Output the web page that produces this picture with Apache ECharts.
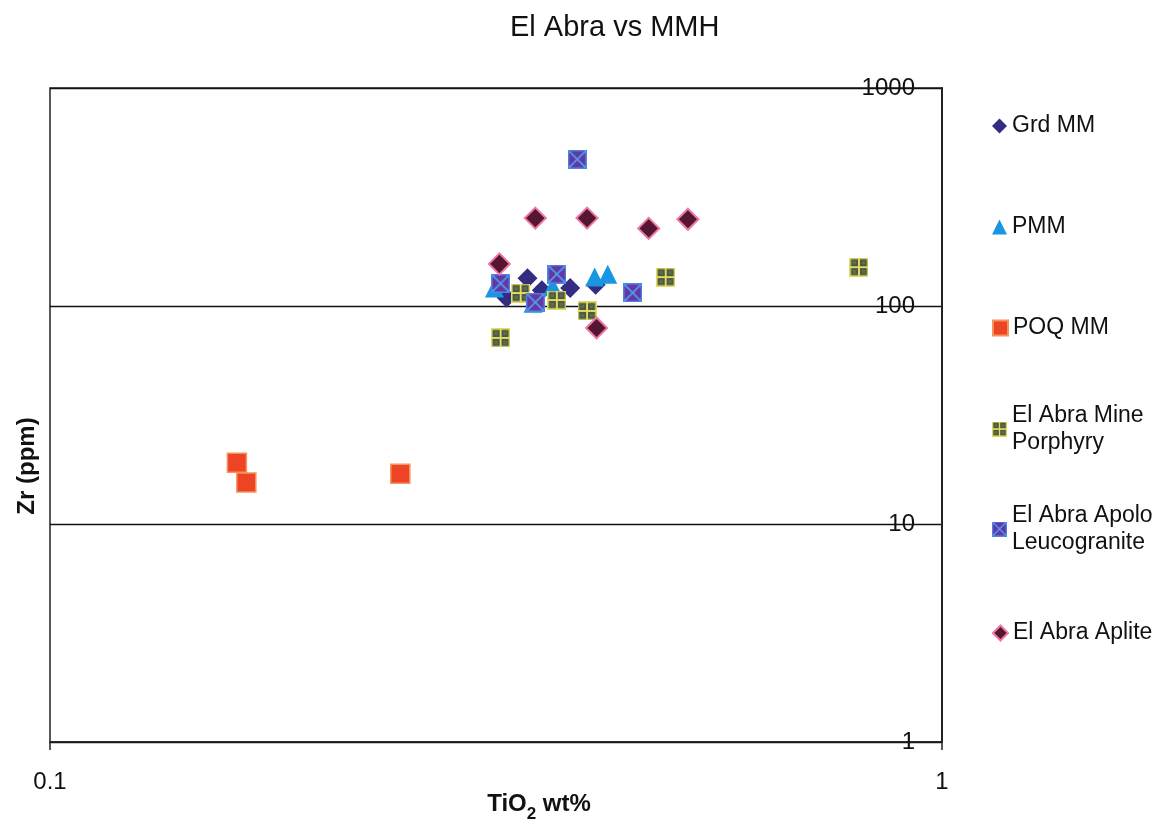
<!DOCTYPE html>
<html>
<head>
<meta charset="utf-8">
<title>El Abra vs MMH</title>
<script src="https://cdn.jsdelivr.net/npm/echarts@6/dist/echarts.min.js"></script>
<style>
  html, body { margin: 0; padding: 0; background: #ffffff; }
  #chart { width: 1169px; height: 821px; }
</style>
</head>
<body>
<div id="chart"></div>
<script>
// TiO2 (wt%) and Zr (ppm) for each sample group
const grdMM_TiO2 = [0.325, 0.343, 0.356, 0.383, 0.409];
const grdMM_Zr   = [109, 134, 118, 121, 125];

const pmm_TiO2 = [0.315, 0.348, 0.366, 0.408, 0.422];
const pmm_Zr   = [121, 103, 123, 136, 140];

const poqMM_TiO2 = [0.162, 0.166, 0.247];
const poqMM_Zr   = [19.1, 15.5, 17.0];

const minePorphyry_TiO2 = [0.320, 0.337, 0.370, 0.400, 0.490, 0.807];
const minePorphyry_Zr   = [71.4, 114.7, 106.5, 94.9, 135.7, 150.7];

const apolo_TiO2 = [0.320, 0.350, 0.370, 0.390, 0.450];
const apolo_Zr   = [127, 104, 140, 471, 115];

const aplite_TiO2 = [0.319, 0.350, 0.400, 0.469, 0.519, 0.410];
const aplite_Zr   = [156, 253, 253, 227, 250, 79.3];

const seriesNames = ['Grd MM', 'PMM', 'POQ MM', 'El Abra Mine\nPorphyry', 'El Abra Apolo\nLeucogranite', 'El Abra Aplite'];
const xTickLabels = ['0.1', '1'];
const yTickLabels = ['1', '10', '100', '1000'];

const FONT = '"Liberation Sans", Arial, sans-serif';

function pairs(xs, ys) { return xs.map((x, i) => [x, ys[i]]); }

// Marker images for the patterned symbols
function makeSymbol(draw) {
  const c = document.createElement('canvas');
  c.width = 40; c.height = 40;
  draw(c.getContext('2d'));
  return 'image://' + c.toDataURL();
}
const porphyrySymbol = makeSymbol(ctx => {
  ctx.fillStyle = '#e4dc5e';
  ctx.fillRect(0, 0, 40, 40);
  ctx.fillStyle = '#4c5a44';
  [[3, 3], [22, 3], [3, 22], [22, 22]].forEach(([x, y]) => ctx.fillRect(x, y, 15, 15));
  ctx.fillStyle = '#5e6d52';
  [[7, 7], [26, 7], [7, 26], [26, 26]].forEach(([x, y]) => ctx.fillRect(x, y, 7, 7));
});
const apoloSymbol = makeSymbol(ctx => {
  ctx.fillStyle = '#6438a4';
  ctx.fillRect(0, 0, 40, 40);
  ctx.strokeStyle = '#4f86e6';
  ctx.lineWidth = 3;
  ctx.strokeRect(1.5, 1.5, 37, 37);
  ctx.strokeStyle = '#4fa0f0';
  ctx.lineWidth = 3.5;
  ctx.beginPath();
  ctx.moveTo(3, 3); ctx.lineTo(37, 37);
  ctx.moveTo(37, 3); ctx.lineTo(3, 37);
  ctx.stroke();
});

const seriesDefs = [
  { name: seriesNames[0], data: pairs(grdMM_TiO2, grdMM_Zr), symbol: 'diamond', symbolSize: 20,
    itemStyle: { color: '#332c80', opacity: 1 } },
  { name: seriesNames[1], data: pairs(pmm_TiO2, pmm_Zr), symbol: 'triangle', symbolSize: 19,
    itemStyle: { color: '#1896e2', opacity: 1 } },
  { name: seriesNames[2], data: pairs(poqMM_TiO2, poqMM_Zr), symbol: 'rect', symbolSize: 19,
    itemStyle: { color: '#ee4426', borderColor: '#f6925a', borderWidth: 1.5, opacity: 1 } },
  { name: seriesNames[3], data: pairs(minePorphyry_TiO2, minePorphyry_Zr), symbol: porphyrySymbol, symbolSize: 19,
    itemStyle: { color: '#4c5a44', opacity: 1 } },
  { name: seriesNames[4], data: pairs(apolo_TiO2, apolo_Zr), symbol: apoloSymbol, symbolSize: 19,
    itemStyle: { color: '#6438a4', opacity: 1 } },
  { name: seriesNames[5], data: pairs(aplite_TiO2, aplite_Zr), symbol: 'diamond', symbolSize: 21,
    itemStyle: { color: '#561632', borderColor: '#ec78a4', borderWidth: 2, opacity: 1 } }
];

// Legend: one block per group, stacked down the right side
const legendCenters = [126, 227, 328, 429, 529, 633];
const LINE_H = 27;
const legends = seriesDefs.map((s, i) => {
  const twoLine = s.name.indexOf('\n') >= 0;
  return {
    data: [s.name],
    orient: 'vertical',
    left: 992,
    top: legendCenters[i] - (twoLine ? 1.5 * LINE_H : LINE_H / 2),
    padding: 0,
    itemWidth: 15,
    itemHeight: 15,
    selectedMode: false,
    textStyle: {
      fontFamily: FONT, fontSize: 23, color: '#111', lineHeight: LINE_H,
      padding: twoLine ? [LINE_H, 0, 0, 0] : 0
    }
  };
});

const chart = echarts.init(document.getElementById('chart'), null, { renderer: 'canvas' });
chart.setOption({
  backgroundColor: '#ffffff',
  animation: false,
  title: {
    text: 'El Abra vs MMH',
    left: 505,
    top: 8,
    textStyle: { fontFamily: FONT, fontSize: 29, fontWeight: 'normal', color: '#111' }
  },
  legend: legends,
  grid: {
    left: 50, right: 227, top: 88, bottom: 79,
    show: true, borderColor: '#222', borderWidth: 1.5, backgroundColor: 'transparent'
  },
  xAxis: {
    type: 'log', logBase: 10, min: 0.1, max: 1,
    axisLine: { show: true, lineStyle: { color: '#222', width: 1.5 } },
    axisTick: { show: true, length: 8, lineStyle: { color: '#222', width: 1.5 } },
    splitLine: { show: false },
    axisLabel: {
      margin: 28, fontFamily: FONT, fontSize: 24, color: '#111',
      formatter: v => xTickLabels[Math.round(Math.log10(v) - Math.log10(0.1))]
    }
  },
  yAxis: {
    type: 'log', logBase: 10, min: 1, max: 1000,
    position: 'right',
    axisLine: { show: true, lineStyle: { color: '#222', width: 2 } },
    axisTick: { show: false },
    splitLine: { show: true, lineStyle: { color: '#111', width: 1.3 } },
    axisLabel: {
      inside: true, margin: 27, fontFamily: FONT, fontSize: 24, color: '#111',
      formatter: v => yTickLabels[Math.round(Math.log10(v))]
    }
  },
  graphic: [
    {
      type: 'text', x: 539, y: 806, z: 10,
      style: {
        text: '{b|TiO}{s|2}{b| wt%}',
        align: 'center', verticalAlign: 'middle',
        rich: {
          b: { fontFamily: FONT, fontSize: 24, fontWeight: 'bold', lineHeight: 28, verticalAlign: 'top', fill: '#111' },
          s: { fontFamily: FONT, fontSize: 17, fontWeight: 'bold', lineHeight: 16, padding: [14, 0, 0, 0], verticalAlign: 'top', fill: '#111' }
        }
      }
    },
    {
      type: 'text', x: 27, y: 466, rotation: Math.PI / 2, z: 10,
      style: {
        text: 'Zr (ppm)', align: 'center', verticalAlign: 'middle',
        font: 'bold 24px ' + FONT, fill: '#111'
      }
    }
  ],
  series: seriesDefs.map(s => ({
    type: 'scatter',
    name: s.name,
    data: s.data,
    symbol: s.symbol,
    symbolSize: s.symbolSize,
    itemStyle: s.itemStyle,
    emphasis: { disabled: true }
  }))
});
</script>
</body>
</html>
